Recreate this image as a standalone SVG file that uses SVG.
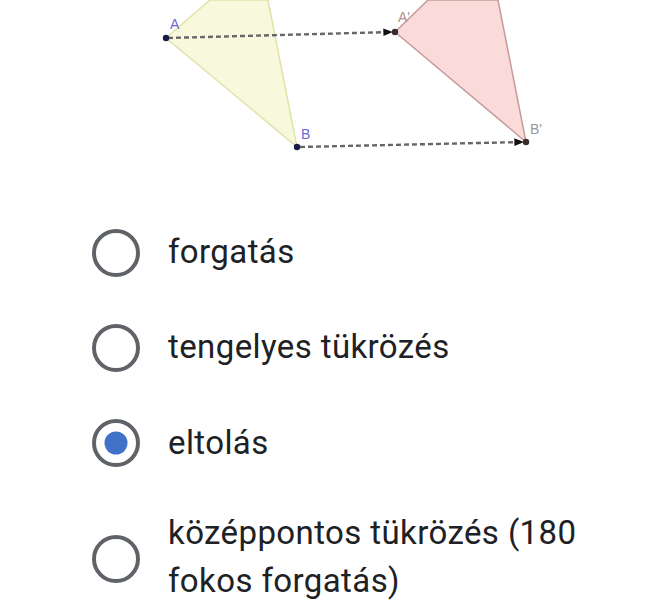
<svg xmlns="http://www.w3.org/2000/svg" width="649" height="601" viewBox="0 0 649 601">
<defs>
<marker id="arr" viewBox="0 0 10 10" refX="9" refY="5" markerWidth="5" markerHeight="4" orient="auto" markerUnits="strokeWidth">
<path d="M0,1 L10,5 L0,9 z" fill="#111"/>
</marker>
<style>
.opt{font-family:Roboto,"Liberation Sans",sans-serif;font-size:33px;fill:#202124;letter-spacing:0.4px}
.radio{fill:none;stroke:#5f6368;stroke-width:4}
.lbl{font-family:"Liberation Sans",sans-serif;font-size:14px}
.dash{stroke:#666;stroke-width:2.4;stroke-dasharray:5,3;fill:none}
</style>
</defs>
<rect width="649" height="601" fill="#fff"/>
<g id="triangle-ABC">
<polygon points="166,38 210,0 268,0 297,147" fill="#f8f8dc" stroke="#dfe3a8" stroke-width="1.5"/>
</g>
<g id="triangle-image">
<polygon points="395,32 428,0 498,0 526,142" fill="#fbdada" stroke="#c69a9a" stroke-width="1.5"/>
</g>
<g id="connectors">
<line class="dash" x1="168" y1="38" x2="392" y2="32" marker-end="url(#arr)"/>
<line class="dash" x1="300" y1="147" x2="523" y2="142" marker-end="url(#arr)"/>
</g>
<g id="points">
<circle cx="166" cy="38" r="3.2" fill="#1a1a4a"/>
<circle cx="297" cy="147" r="3.2" fill="#1a1a4a"/>
<circle cx="395" cy="32" r="3.2" fill="#3a2a2a"/>
<circle cx="526" cy="142" r="3.2" fill="#3a2a2a"/>
<text class="lbl" x="170" y="29" fill="#6a6ad0">A</text>
<text class="lbl" x="301" y="139" fill="#6a6ad0">B</text>
<text class="lbl" x="398" y="22" fill="#b09090">A'</text>
<text class="lbl" x="530" y="134" fill="#999">B'</text>
</g>
<g id="opt1">
<circle class="radio" cx="116" cy="253" r="22"/>
<text class="opt" x="168" y="263">forgatás</text>
</g>
<g id="opt2">
<circle class="radio" cx="116" cy="348" r="22"/>
<text class="opt" x="168" y="358">tengelyes tükrözés</text>
</g>
<g id="opt3">
<circle class="radio" cx="116" cy="443" r="22"/>
<circle cx="116" cy="443" r="11.5" fill="#4170c8"/>
<text class="opt" x="168" y="454">eltolás</text>
</g>
<g id="opt4">
<circle class="radio" cx="116" cy="559" r="22"/>
<text class="opt" x="168" y="544">középpontos tükrözés (180</text>
<text class="opt" x="168" y="592">fokos forgatás)</text>
</g>
</svg>
